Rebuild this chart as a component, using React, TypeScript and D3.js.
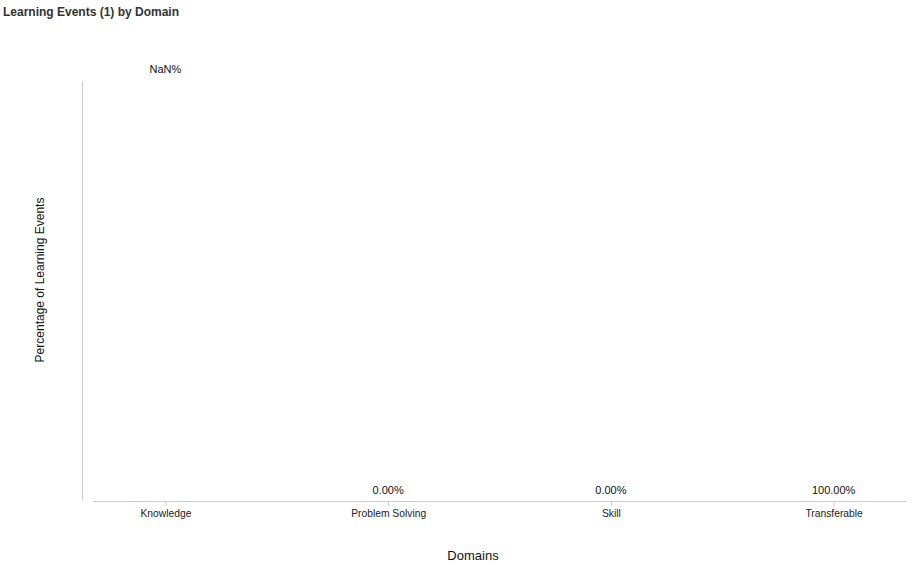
import * as d3 from 'd3';
import { useEffect, useRef } from 'react';

const categories = ['Knowledge', 'Problem Solving', 'Skill', 'Transferable'];
const percentages = [NaN, 0, 0, 100];
const title = 'Learning Events (1) by Domain';
const xTitle = 'Domains';
const yTitle = 'Percentage of Learning Events';

const W = 919;
const H = 569;

export default function App() {
  const svgRef = useRef<SVGSVGElement>(null);

  useEffect(() => {
    if (!svgRef.current) return;
    const svg = d3.select(svgRef.current);
    svg.selectAll('*').remove();

    const top = 81;
    const bottom = 501;

    const xScale = d3.scalePoint<string>()
      .domain(categories)
      .range([93, 906])
      .padding(0.325);

    const yScale = d3.scaleLinear().domain([0, 100]).range([bottom, top]);

    svg.append('text')
      .attr('x', 3)
      .attr('y', 16)
      .style('font-family', '"Liberation Sans", Arial, sans-serif')
      .style('font-size', '12px')
      .style('font-weight', 'bold')
      .style('fill', '#333')
      .text(title);

    // y axis line only
    svg.append('line')
      .attr('x1', 82.5).attr('x2', 82.5)
      .attr('y1', top).attr('y2', bottom - 0.5)
      .attr('stroke', '#ccc');

    // x axis
    const xAxis = svg.append('g')
      .attr('transform', `translate(0,${bottom})`)
      .call(d3.axisBottom(xScale).tickSize(5).tickSizeOuter(0).tickPadding(4));
    xAxis.select('.domain').attr('stroke', '#ccc').attr('d', 'M93,0.5H906');
    xAxis.selectAll('.tick line').attr('stroke', '#ccc').attr('y1', 0).attr('y2', 5);
    xAxis.selectAll('.tick text')
      .style('font-family', '"Liberation Sans", Arial, sans-serif')
      .style('font-size', '10.3px')
      .style('fill', '#222');

    // value labels (no visible bars: totals are empty)
    svg.selectAll('.value-label')
      .data(categories.map((c, i) => ({ c, v: percentages[i] })))
      .join('text')
      .attr('class', 'value-label')
      .attr('x', d => xScale(d.c) ?? 0)
      .attr('y', d => (Number.isFinite(d.v) ? yScale(0) - 7 : yScale(100) - 8))
      .attr('text-anchor', 'middle')
      .style('font-family', '"Liberation Sans", Arial, sans-serif')
      .style('font-size', '11px')
      .style('fill', '#111')
      .text(d => `${Number.isFinite(d.v) ? d.v.toFixed(2) : 'NaN'}%`);

    svg.append('text')
      .attr('x', 473)
      .attr('y', 560)
      .attr('text-anchor', 'middle')
      .style('font-family', '"Liberation Sans", Arial, sans-serif')
      .style('font-size', '13px')
      .style('fill', '#111')
      .text(xTitle);

    svg.append('text')
      .attr('transform', 'rotate(-90)')
      .attr('x', -280)
      .attr('y', 44)
      .attr('text-anchor', 'middle')
      .style('font-family', '"Liberation Sans", Arial, sans-serif')
      .style('font-size', '12px')
      .style('fill', '#111')
      .text(yTitle);
  }, []);

  return (
    <svg
      ref={svgRef}
      width={W}
      height={H}
      style={{ position: 'absolute', left: 0, top: 0, background: '#fff' }}
    />
  );
}
